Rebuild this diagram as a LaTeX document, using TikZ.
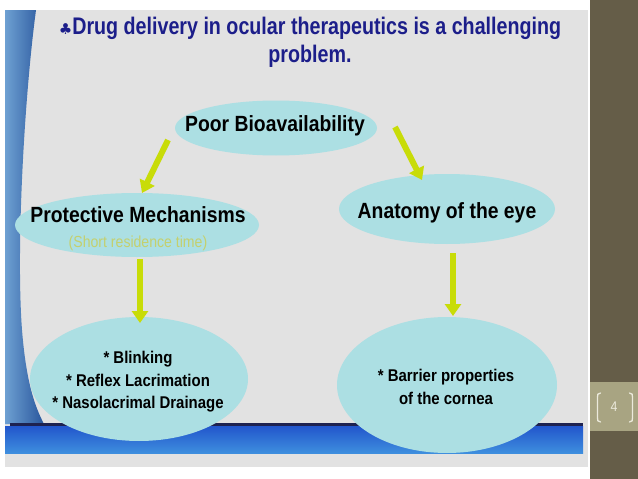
\documentclass[tikz,border=0pt]{standalone}
\usepackage{fontspec}
\setmainfont{Liberation Sans}[FakeStretch=0.88]
\newfontfamily\titlefont{Liberation Sans}[FakeStretch=0.82]
\newfontfamily\symfont{DejaVu Sans}
\usetikzlibrary{arrows.meta,shapes.geometric}
\definecolor{slidebg}{RGB}{226,226,226}
\definecolor{sidebrown}{RGB}{101,93,72}
\definecolor{pagetan}{RGB}{168,164,130}
\definecolor{bubblecol}{RGB}{172,223,227}
\definecolor{arrowcol}{RGB}{200,220,8}
\definecolor{titleblue}{RGB}{28,30,138}
\definecolor{subgreen}{RGB}{196,208,110}
\definecolor{stripelight}{RGB}{110,160,210}
\definecolor{stripedark}{RGB}{40,86,156}
\definecolor{bartop}{RGB}{34,86,204}
\definecolor{barbot}{RGB}{62,142,222}
\definecolor{barline}{RGB}{30,34,80}
\definecolor{bracketcol}{RGB}{236,234,220}
\tikzset{
  bubble/.style={shape=ellipse, fill=bubblecol, draw=none, inner sep=0pt, outer sep=0pt},
  lbl/.style={inner sep=0pt, text=black, font=\fontsize{22}{26}\selectfont\bfseries},
  itemlbl/.style={inner sep=0pt, text=black, align=center, font=\fontsize{17}{22.5}\selectfont\bfseries},
  sublbl/.style={inner sep=0pt, text=subgreen, font=\fontsize{16}{19}\selectfont},
  arr/.style={draw=arrowcol, line width=6pt, -{Triangle[width=16pt,length=12pt]}},
  brk/.style={draw=bracketcol, line width=1.3pt, line cap=round}
}
\begin{document}
\begin{tikzpicture}[x=1pt,y=-1pt]
\useasboundingbox (0,0) rectangle (638,479);
\fill[white] (0,0) rectangle (638,479);
% slide background
\fill[slidebg] (5,10) rectangle (588,467);
% right side bar
\fill[sidebrown] (590,0) rectangle (638,479);
\fill[pagetan] (590,382) rectangle (638,431);
% left decorative stripe
\shade[left color=stripelight, right color=stripedark]
  (5,10) -- (36,10) .. controls (24,100) and (16,250) .. (22,330)
  .. controls (26,380) and (34,405) .. (44,424) -- (5,424) -- cycle;
% bottom bar
\fill[barline] (10,423) rectangle (583,426);
\shade[top color=bartop, bottom color=barbot] (5,426) rectangle (583,453);
% bubbles
\node[bubble, minimum width=202pt, minimum height=55pt] (pbE) at (276,128) {};
\node[bubble, minimum width=244pt, minimum height=64pt] (pmE) at (137,225) {};
\node[bubble, minimum width=216pt, minimum height=70pt] (anE) at (447,209) {};
\node[bubble, minimum width=218pt, minimum height=124pt] (blE) at (139,379) {};
\node[bubble, minimum width=220pt, minimum height=136pt] (brE) at (447,385) {};
% texts
\node[inner sep=0pt, text=titleblue, align=center, font=\titlefont\fontsize{24}{28}\selectfont\bfseries] (title) at (310,42)
  {{\symfont\fontsize{15}{15}\selectfont ♣}Drug delivery in ocular therapeutics is a challenging\\problem.};
\node[lbl, anchor=base] (pb) at (275,131) {Poor Bioavailability};
\node[lbl, anchor=base] (pm) at (138,222) {Protective Mechanisms};
\node[sublbl, anchor=base] (pmsub) at (138,247) {(Short residence time)};
\node[lbl, anchor=base] (an) at (447,218) {Anatomy of the eye};
\node[itemlbl] (bl) at (138,382) {* Blinking\\* Reflex Lacrimation\\* Nasolacrimal Drainage};
\node[itemlbl] (br) at (446,387) {* Barrier properties\\of the cornea};
% arrows
\coordinate (a1s) at (168,140); \coordinate (a1e) at (142,193);
\coordinate (a2s) at (395,127); \coordinate (a2e) at (422,180);
\coordinate (a3s) at (140,259); \coordinate (a3e) at (140,323);
\coordinate (a4s) at (453,253); \coordinate (a4e) at (453,316);
\draw[arr] (a1s) -- (a1e);
\draw[arr] (a2s) -- (a2e);
\draw[arr] (a3s) -- (a3e);
\draw[arr] (a4s) -- (a4e);
% page number
\node[inner sep=0pt, text=bracketcol, font=\fontsize{14}{16}\selectfont] (pg) at (614,407) {4};
\draw[brk] (600.5,393) .. controls (597.5,394) .. (597.5,397) -- (597.5,418) .. controls (597.5,421) .. (600.5,422);
\draw[brk] (629.5,393) .. controls (632.5,394) .. (632.5,397) -- (632.5,418) .. controls (632.5,421) .. (629.5,422);
\end{tikzpicture}
\end{document}
